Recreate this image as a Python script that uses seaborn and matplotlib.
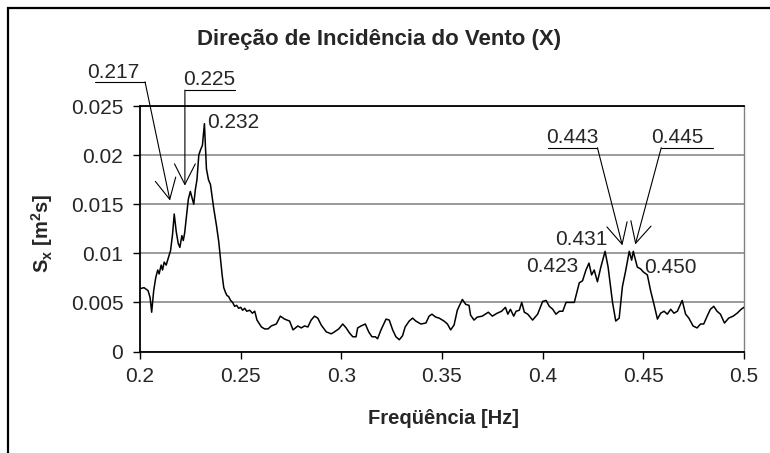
import matplotlib
matplotlib.use("Agg")
import matplotlib.pyplot as plt
import seaborn as sns
import pandas as pd
from matplotlib.patches import Rectangle

# Spectral density of the response, direction X
freq = [
    0.2000, 0.2020, 0.2040, 0.2050, 0.2058, 0.2068, 0.2078, 0.2088, 0.2095, 0.2105,
    0.2112, 0.2120, 0.2130, 0.2142, 0.2152, 0.2162, 0.2170, 0.2180, 0.2190, 0.2198,
    0.2208, 0.2215, 0.2222, 0.2232, 0.2240, 0.2250, 0.2258, 0.2267, 0.2275, 0.2283,
    0.2292, 0.2300, 0.2310, 0.2320, 0.2330, 0.2340, 0.2350, 0.2358, 0.2366, 0.2380,
    0.2391, 0.2399, 0.2408, 0.2416, 0.2425, 0.2432, 0.2440, 0.2450, 0.2460, 0.2470,
    0.2480, 0.2490, 0.2500, 0.2510, 0.2520, 0.2530, 0.2545, 0.2558, 0.2570, 0.2581,
    0.2603, 0.2619, 0.2636, 0.2652, 0.2677, 0.2697, 0.2718, 0.2743, 0.2760, 0.2784,
    0.2801, 0.2817, 0.2834, 0.2850, 0.2867, 0.2883, 0.2900, 0.2925, 0.2950, 0.2966,
    0.2987, 0.3007, 0.3024, 0.3040, 0.3057, 0.3073, 0.3081, 0.3098, 0.3119, 0.3136,
    0.3152, 0.3169, 0.3180, 0.3197, 0.3222, 0.3238, 0.3255, 0.3271, 0.3288, 0.3304,
    0.3317, 0.3337, 0.3354, 0.3370, 0.3395, 0.3420, 0.3436, 0.3450, 0.3469, 0.3486,
    0.3510, 0.3527, 0.3543, 0.3560, 0.3576, 0.3601, 0.3618, 0.3634, 0.3642, 0.3659,
    0.3675, 0.3700, 0.3730, 0.3750, 0.3774, 0.3796, 0.3815, 0.3827, 0.3840, 0.3856,
    0.3868, 0.3884, 0.3896, 0.3909, 0.3926, 0.3950, 0.3975, 0.4000, 0.4017, 0.4033,
    0.4050, 0.4066, 0.4083, 0.4100, 0.4116, 0.4157, 0.4182, 0.4198, 0.4215, 0.4230,
    0.4243, 0.4256, 0.4272, 0.4289, 0.4310, 0.4325, 0.4347, 0.4363, 0.4380, 0.4396,
    0.4413, 0.4430, 0.4442, 0.4450, 0.4470, 0.4487, 0.4500, 0.4520, 0.4536, 0.4553,
    0.4570, 0.4586, 0.4603, 0.4619, 0.4636, 0.4652, 0.4669, 0.4693, 0.4710, 0.4726,
    0.4747, 0.4767, 0.4784, 0.4800, 0.4817, 0.4833, 0.4850, 0.4866, 0.4883, 0.4903,
    0.4924, 0.4946, 0.4966, 0.4986, 0.5000,
]
sx = [
    0.0064, 0.0065, 0.0062, 0.0055, 0.0040, 0.0062, 0.0075, 0.0083, 0.0079, 0.0088,
    0.0083, 0.0091, 0.0088, 0.0096, 0.0103, 0.0120, 0.0140, 0.0122, 0.0110, 0.0106,
    0.0118, 0.0113, 0.0121, 0.0140, 0.0155, 0.0163, 0.0157, 0.0150, 0.0165, 0.0175,
    0.0200, 0.0205, 0.0210, 0.0232, 0.0186, 0.0175, 0.0170, 0.0158, 0.0146, 0.0128,
    0.0112, 0.0096, 0.0078, 0.0065, 0.0060, 0.0057, 0.0056, 0.0052, 0.0050, 0.0046,
    0.0047, 0.0044, 0.0045, 0.0042, 0.0044, 0.0041, 0.0042, 0.0039, 0.0041, 0.0032,
    0.0025, 0.0023, 0.0023, 0.0026, 0.0028, 0.0036, 0.0033, 0.0031, 0.0022, 0.0026,
    0.0024, 0.0026, 0.0025, 0.0032, 0.0036, 0.0034, 0.0027, 0.0020, 0.0018, 0.0020,
    0.0023, 0.0028, 0.0024, 0.0019, 0.0015, 0.0015, 0.0024, 0.0026, 0.0028, 0.0020,
    0.0015, 0.0015, 0.0013, 0.0022, 0.0033, 0.0032, 0.0022, 0.0015, 0.0012, 0.0016,
    0.0025, 0.0031, 0.0034, 0.0031, 0.0028, 0.0029, 0.0036, 0.0038, 0.0035, 0.0034,
    0.0031, 0.0028, 0.0022, 0.0027, 0.0042, 0.0053, 0.0048, 0.0047, 0.0037, 0.0032,
    0.0035, 0.0036, 0.0040, 0.0036, 0.0039, 0.0041, 0.0045, 0.0038, 0.0043, 0.0036,
    0.0041, 0.0042, 0.0050, 0.0040, 0.0038, 0.0032, 0.0038, 0.0051, 0.0052, 0.0046,
    0.0043, 0.0038, 0.0041, 0.0041, 0.0050, 0.0050, 0.0070, 0.0072, 0.0083, 0.0090,
    0.0078, 0.0083, 0.0071, 0.0086, 0.0102, 0.0086, 0.0050, 0.0031, 0.0034, 0.0066,
    0.0083, 0.0102, 0.0093, 0.0102, 0.0086, 0.0084, 0.0081, 0.0078, 0.0062, 0.0048,
    0.0033, 0.0039, 0.0041, 0.0038, 0.0043, 0.0039, 0.0041, 0.0052, 0.0038, 0.0034,
    0.0026, 0.0024, 0.0028, 0.0028, 0.0036, 0.0043, 0.0046, 0.0041, 0.0038, 0.0029,
    0.0034, 0.0036, 0.0039, 0.0043, 0.0045,
]

x_ticks = [0.2, 0.25, 0.3, 0.35, 0.4, 0.45, 0.5]
x_tick_labels = ["0.2", "0.25", "0.3", "0.35", "0.4", "0.45", "0.5"]
y_ticks = [0, 0.005, 0.01, 0.015, 0.02, 0.025]
y_tick_labels = ["0", "0.005", "0.01", "0.015", "0.02", "0.025"]

title = "Direção de Incidência do Vento (X)"
x_label = "Freqüência [Hz]"
y_label = "S$_{x}$ [m$^{2}$s]"

# Peak labels placed next to the curve: (text, x, y)
plain_labels = [
    ("0.232", 0.2332, 0.02277),
    ("0.431", 0.4064, 0.01080),
    ("0.423", 0.3916, 0.00806),
    ("0.450", 0.4505, 0.00796),
]
# Peak labels with an underline and a leader arrow:
# (text, text position, underline x-range, underline y, leader start side, arrow tip)
leader_labels = [
    ("0.217", (0.1738, 0.02784), (0.1777, 0.2025), 0.02746, "right", (0.2149, 0.01537)),
    ("0.225", (0.2213, 0.02713), (0.2223, 0.2470), 0.02662, "left", (0.2223, 0.01689)),
    ("0.443", (0.4015, 0.02125), (0.4025, 0.4272), 0.02075, "right", (0.4396, 0.01080)),
    ("0.445", (0.4540, 0.02125), (0.4589, 0.4847), 0.02075, "left", (0.4460, 0.01090)),
]

sns.set_style("white")
plt.rcParams["font.family"] = ["Liberation Sans", "DejaVu Sans"]
plt.rcParams["mathtext.fontset"] = "custom"
plt.rcParams["mathtext.rm"] = "Liberation Sans:bold"
plt.rcParams["mathtext.it"] = "Liberation Sans:bold"
plt.rcParams["mathtext.bf"] = "Liberation Sans:bold"

W, H = 770, 453
fig = plt.figure(figsize=(W / 100, H / 100), dpi=100)
fig.patch.set_facecolor("white")
ax = fig.add_axes([140 / W, 1 - 351.5 / H, (744 - 140) / W, (351.5 - 106) / H])

df = pd.DataFrame({"freq": freq, "sx": sx})
sns.lineplot(data=df, x="freq", y="sx", color="black", linewidth=1.1, ax=ax,
             estimator=None, sort=False, zorder=3)

ax.set_xlim(0.2, 0.5)
ax.set_ylim(0, 0.025)
ax.set_xticks(x_ticks)
ax.set_xticklabels(x_tick_labels)
ax.set_yticks(y_ticks)
ax.set_yticklabels(y_tick_labels)
ax.set_xlabel("")
ax.set_ylabel("")
ax.tick_params(axis="both", which="major", labelsize=15, direction="out",
               length=5, width=1.0, color="black", left=True, bottom=True)
ax.tick_params(axis="x", pad=6)
ax.tick_params(axis="y", pad=7)

ax.yaxis.grid(True, color="#808080", linewidth=1.1)
ax.xaxis.grid(False)
ax.set_axisbelow(True)

for side in ("left", "bottom", "top"):
    ax.spines[side].set_color("black")
    ax.spines[side].set_linewidth(1.3)
ax.spines["right"].set_color("#808080")
ax.spines["right"].set_linewidth(1.0)

for txt, x, y in plain_labels:
    ax.text(x, y, txt, fontsize=15, ha="left", va="baseline", clip_on=False)

for txt, (tx, ty), (u0, u1), uy, side, tip in leader_labels:
    ax.text(tx, ty, txt, fontsize=15, ha="left", va="baseline", clip_on=False)
    ax.plot([u0, u1], [uy, uy], color="black", linewidth=0.8, clip_on=False)
    start = (u1, uy) if side == "right" else (u0, uy)
    ax.annotate("", xy=tip, xytext=start, xycoords="data", textcoords="data",
                annotation_clip=False,
                arrowprops=dict(arrowstyle="->,head_length=1.48,head_width=0.75",
                                mutation_scale=10, color="black", linewidth=0.8,
                                shrinkA=0, shrinkB=0))

fig.text(379 / W, 1 - 39 / H, title, fontsize=16, fontweight="bold",
         ha="center", va="center")
fig.text(444 / W, 1 - 418 / H, x_label, fontsize=14.5, fontweight="bold",
         ha="center", va="center")
fig.text(42 / W, 1 - 233 / H, y_label, fontsize=14.5, fontweight="bold",
         ha="center", va="center", rotation=90)

# Chart frame
fig.patches.append(Rectangle((8 / W, -0.5), 2.0, 1.5 - 8 / H, transform=fig.transFigure,
                             fill=False, edgecolor="black", linewidth=1.6))

fig.savefig("out.png", dpi=100, facecolor="white")
